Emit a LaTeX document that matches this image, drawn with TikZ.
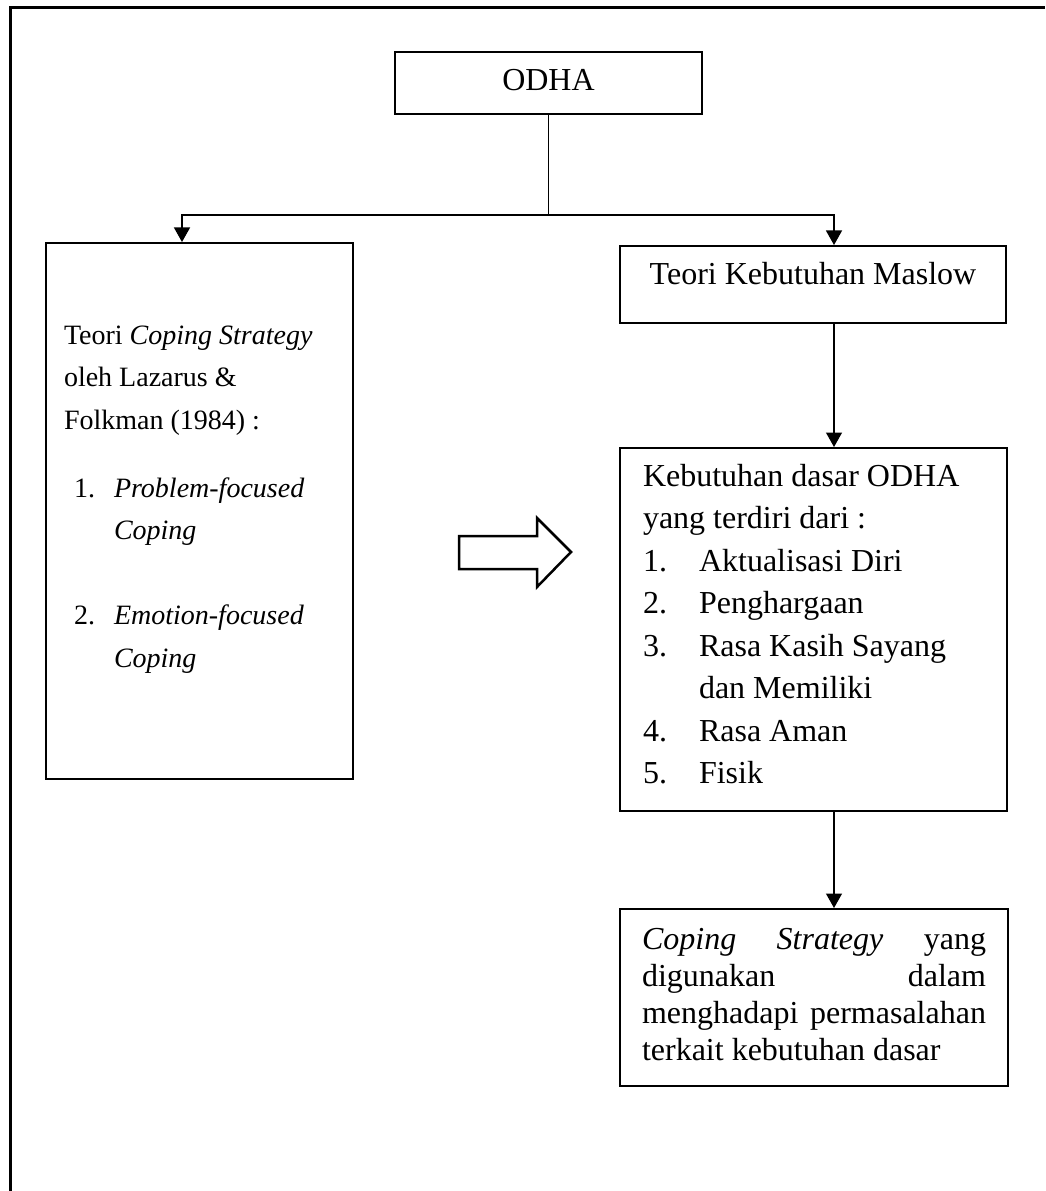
\documentclass[tikz,border=0pt]{standalone}
\usepackage{fontspec}
\setmainfont{Liberation Serif}
\usetikzlibrary{arrows.meta,calc}
\newcommand{\listnum}[3]{\hspace*{#1}\makebox[#2][l]{#3}}

\begin{document}
\begin{tikzpicture}[x=0.4pt,y=-0.4pt,
  font=\fontsize{12.8}{17}\selectfont,
  box/.style={draw,line width=0.8pt,inner ysep=0pt,anchor=north west},
  arr/.style={-{Triangle[length=5.8pt,width=6.4pt]},line width=0.5pt}]
  \useasboundingbox (0,0) rectangle (1045,1191);
  \draw[line width=1.2pt] (10,1191) |- (1045,8);% frame, open at right and bottom
  %% boxes
  \node[box,inner xsep=0pt,text width=122.8pt,align=flush center,text height=15.6pt,text depth=9.2pt] (odha) at (394,51) {ODHA};
  \node[box,inner xsep=7.2pt,text width=108.4pt,align=flush left,text height=40.4pt,text depth=174pt,font=\fontsize{11.2}{17}\selectfont] (coping) at (45,242) {Teori \textit{Coping Strategy}\\ oleh Lazarus \&\\ Folkman (1984) :\\[10.2pt]
    \listnum{4pt}{16pt}{1.}\textit{Problem-focused}\\ \hspace*{20pt}\textit{Coping}\\[17pt]
    \listnum{4pt}{16pt}{2.}\textit{Emotion-focused}\\ \hspace*{20pt}\textit{Coping}};
  \node[box,inner xsep=0pt,text width=154.4pt,align=flush center,text height=15.6pt,text depth=15.2pt] (maslow) at (619,245) {Teori Kebutuhan Maslow};
  \node[box,inner xsep=9.2pt,text width=136.4pt,align=flush left,text height=15.2pt,text depth=130pt] (needs) at (619,447) {Kebutuhan dasar ODHA\\ yang terdiri dari :\\
    \listnum{0pt}{22.4pt}{1.}Aktualisasi Diri\\
    \listnum{0pt}{22.4pt}{2.}Penghargaan\\
    \listnum{0pt}{22.4pt}{3.}Rasa Kasih Sayang\\ \hspace*{22.4pt}dan Memiliki\\
    \listnum{0pt}{22.4pt}{4.}Rasa Aman\\
    \listnum{0pt}{22.4pt}{5.}Fisik};
  \node[box,inner xsep=8.8pt,text width=137.6pt,align=justify,text height=16pt,text depth=54.8pt,font=\fontsize{12.8}{14.8}\selectfont] (usage) at (619,908) {\textit{Coping Strategy} yang\linebreak digunakan dalam\linebreak menghadapi permasalahan\linebreak terkait kebutuhan dasar};
  %% connectors
  \coordinate (split) at ($(odha.south)+(0,100)$);
  \draw[line width=0.5pt] (odha.south) -- (split);
  \draw[arr] (split) -| ($(coping.north west)+(137,0)$);
  \draw[arr] (split) -| ($(maslow.north west)+(215,0)$);
  \draw[arr] ($(maslow.south west)+(215,0)$) -- ($(needs.north west)+(215,0)$);
  \draw[arr] ($(needs.south west)+(215,0)$) -- ($(usage.north west)+(215,0)$);
  %% block arrow between the two columns
  \draw[line width=1pt] (459,536) -- (537,536) -- (537,518) -- (571,552) -- (537,587) -- (537,569) -- (459,569) -- cycle;
\end{tikzpicture}
\end{document}
